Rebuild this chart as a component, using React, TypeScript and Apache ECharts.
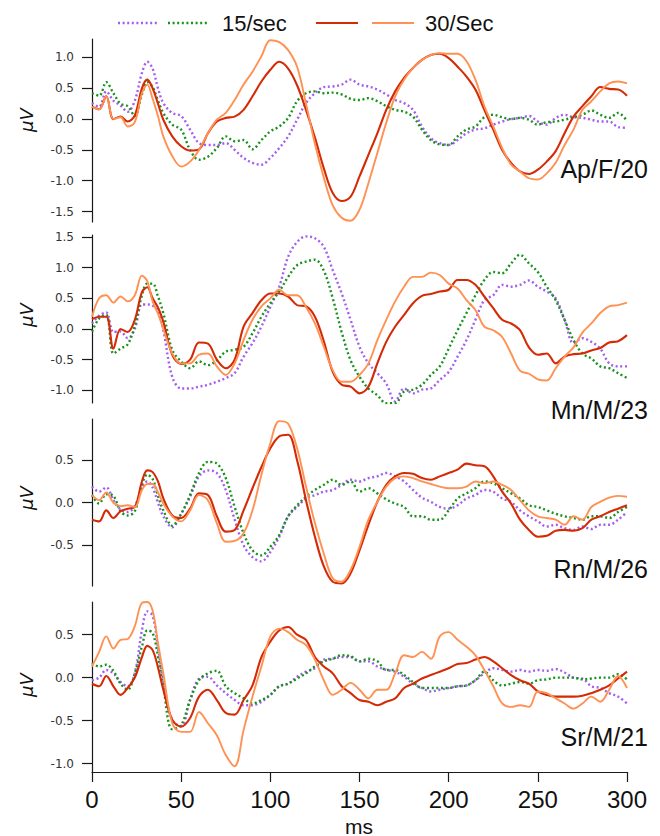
import React, { useEffect, useRef } from "react";
import * as echarts from "echarts";

// time points (ms)
const T = [0, 4, 8, 12, 16, 20, 24, 28, 31, 34, 37, 40,
  45, 50, 55, 60, 65, 70, 75, 80, 85, 90,
  95, 100, 105, 110, 115, 120, 125, 130, 135, 140,
  145, 150, 155, 160, 165, 170, 175, 180, 185, 190,
  195, 200, 205, 210, 215, 220, 225, 230, 235, 240,
  245, 250, 255, 260, 265, 270, 275, 280, 285, 290,
  295, 300];

const xTicks = [0, 50, 100, 150, 200, 250, 300];
const legendLabels = ["15/sec", "30/Sec"];
const seriesNames = ["15/sec A", "15/sec B", "30/Sec A", "30/Sec B"];
const subjects = ["Ap/F/20", "Mn/M/23", "Rn/M/26", "Sr/M/21"];

// Panel 1: Ap/F/20
const apPurple = [0.26, 0.2, 0.45, 0.3, 0.22, 0.12, 0.3, 0.75, 0.93, 0.82, 0.5, 0.26,
  0.1, 0.05, -0.17, -0.39, -0.42, -0.42, -0.39, -0.5, -0.63, -0.71,
  -0.74, -0.63, -0.47, -0.28, -0.01, 0.26, 0.42, 0.52, 0.53, 0.56,
  0.64, 0.56, 0.53, 0.48, 0.4, 0.31, 0.26, 0.15, -0.12, -0.31,
  -0.39, -0.42, -0.34, -0.23, -0.17, -0.15, -0.09, -0.04, 0.0, 0.02,
  0.05, -0.04, -0.09, 0.02, 0.07, 0.03, 0.02, -0.01, -0.04, -0.04,
  -0.13, -0.14];
const apGreen = [0.42, 0.38, 0.6, 0.42, 0.25, 0.21, 0.05, 0.4, 0.6, 0.52, 0.3, 0.1,
  -0.09, -0.17, -0.5, -0.66, -0.61, -0.47, -0.28, -0.36, -0.34, -0.49,
  -0.34, -0.2, -0.12, 0.02, 0.29, 0.42, 0.45, 0.42, 0.43, 0.4,
  0.33, 0.31, 0.34, 0.29, 0.21, 0.15, 0.12, 0.04, -0.17, -0.34,
  -0.41, -0.42, -0.28, -0.17, -0.12, 0.03, 0.07, 0.03, 0.0, 0.02,
  -0.01, -0.09, -0.05, -0.04, -0.01, 0.03, 0.07, 0.14, 0.07, 0.02,
  0.1, -0.03];
const apRed = [0.2, 0.16, 0.37, 0.0, 0.04, -0.04, 0.06, 0.5, 0.64, 0.5, 0.25, -0.01,
  -0.28, -0.44, -0.51, -0.49, -0.23, -0.04, 0.02, 0.04, 0.15, 0.37,
  0.61, 0.8, 0.93, 0.82, 0.55, 0.15, -0.3, -0.8, -1.2, -1.33,
  -1.26, -0.93, -0.58, -0.23, 0.15, 0.45, 0.67, 0.83, 0.96, 1.04,
  1.06, 0.99, 0.85, 0.69, 0.48, 0.15, -0.17, -0.5, -0.71, -0.85,
  -0.89, -0.82, -0.69, -0.52, -0.23, 0.04, 0.21, 0.37, 0.52, 0.49,
  0.48, 0.38];
const apOrange = [0.2, 0.16, 0.37, 0.0, 0.03, -0.12, -0.05, 0.42, 0.56, 0.33, 0.05, -0.28,
  -0.6, -0.77, -0.69, -0.5, -0.23, -0.01, 0.1, 0.31, 0.56, 0.77,
  1.02, 1.28, 1.25, 1.12, 0.85, 0.25, -0.4, -0.95, -1.4, -1.6,
  -1.65, -1.47, -1.04, -0.55, -0.06, 0.37, 0.64, 0.83, 0.96, 1.04,
  1.07, 1.06, 1.06, 0.94, 0.64, 0.21, -0.12, -0.47, -0.74, -0.85,
  -0.96, -0.98, -0.88, -0.71, -0.42, -0.17, 0.15, 0.29, 0.45, 0.58,
  0.61, 0.58];

// Panel 2: Mn/M/23
const mnPurple = [0.09, 0.22, 0.27, -0.05, -0.04, -0.15, 0.0, 0.4, 0.4, 0.38, 0.3, -0.02,
  -0.78, -0.97, -0.97, -0.94, -0.91, -0.86, -0.8, -0.72, -0.45, -0.23,
  0.04, 0.36, 0.69, 1.18, 1.42, 1.51, 1.48, 1.34, 0.96, 0.58,
  0.15, -0.29, -0.56, -0.72, -0.89, -1.18, -0.97, -1.05, -0.99, -0.97,
  -0.83, -0.7, -0.45, -0.18, 0.15, 0.47, 0.55, 0.72, 0.69, 0.72,
  0.79, 0.69, 0.61, 0.5, 0.15, -0.23, -0.15, -0.21, -0.32, -0.56,
  -0.61, -0.61];
const mnGreen = [-0.04, 0.17, 0.23, -0.4, -0.32, -0.25, 0.05, 0.55, 0.74, 0.74, 0.53, 0.26,
  -0.34, -0.53, -0.64, -0.53, -0.59, -0.51, -0.37, -0.34, -0.29, -0.07,
  0.2, 0.42, 0.61, 0.85, 1.04, 1.1, 1.13, 0.95, 0.5, -0.05,
  -0.51, -0.78, -0.97, -1.08, -1.21, -1.21, -1.02, -0.99, -0.91, -0.75,
  -0.61, -0.32, -0.02, 0.26, 0.55, 0.8, 0.93, 0.91, 1.07, 1.21,
  1.07, 0.93, 0.69, 0.47, 0.15, -0.18, -0.4, -0.48, -0.61, -0.64,
  -0.72, -0.8];
const mnRed = [0.16, 0.2, 0.2, -0.32, 0.0, -0.05, 0.15, 0.6, 0.68, 0.5, 0.35, 0.12,
  -0.42, -0.57, -0.5, -0.22, -0.24, -0.5, -0.64, -0.5, 0.04, 0.26,
  0.47, 0.58, 0.58, 0.53, 0.39, 0.37, 0.2, -0.2, -0.7, -0.91,
  -0.94, -1.05, -0.94, -0.56, -0.21, 0.04, 0.23, 0.42, 0.54, 0.57,
  0.61, 0.64, 0.8, 0.8, 0.72, 0.53, 0.34, 0.15, 0.09, -0.02,
  -0.3, -0.42, -0.4, -0.56, -0.45, -0.41, -0.4, -0.35, -0.31, -0.22,
  -0.2, -0.1];
const mnOrange = [0.2, 0.5, 0.55, 0.43, 0.53, 0.45, 0.55, 0.87, 0.78, 0.45, 0.25, 0.0,
  -0.4, -0.56, -0.56, -0.42, -0.4, -0.61, -0.75, -0.56, -0.18, 0.15,
  0.37, 0.5, 0.64, 0.55, 0.55, 0.36, 0.09, -0.29, -0.67, -0.86,
  -0.86, -0.75, -0.56, -0.18, 0.15, 0.45, 0.69, 0.85, 0.85, 0.92,
  0.88, 0.74, 0.66, 0.47, 0.31, 0.04, -0.02, -0.13, -0.4, -0.68,
  -0.73, -0.82, -0.84, -0.64, -0.45, -0.3, -0.06, 0.09, 0.26, 0.37,
  0.39, 0.43];

// Panel 3: Rn/M/26
const rnPurple = [0.19, 0.13, 0.18, 0.03, -0.08, -0.11, -0.04, 0.17, 0.25, 0.18, 0.0, -0.16,
  -0.29, -0.13, 0.07, 0.31, 0.38, 0.35, 0.15, -0.2, -0.5, -0.64,
  -0.69, -0.58, -0.4, -0.16, -0.05, 0.05, 0.09, 0.13, 0.15, 0.21,
  0.27, 0.25, 0.29, 0.31, 0.35, 0.31, 0.25, 0.15, 0.06, 0.01,
  -0.05, -0.07, -0.03, 0.05, 0.09, 0.15, 0.13, 0.05, 0.01, -0.09,
  -0.16, -0.22, -0.28, -0.26, -0.3, -0.32, -0.28, -0.31, -0.26, -0.26,
  -0.2, -0.11];
const rnGreen = [0.09, -0.01, 0.1, 0.08, -0.1, -0.15, -0.1, 0.21, 0.33, 0.28, 0.08, -0.09,
  -0.27, -0.13, 0.09, 0.35, 0.48, 0.46, 0.29, -0.05, -0.36, -0.56,
  -0.62, -0.52, -0.38, -0.16, -0.03, 0.07, 0.15, 0.21, 0.27, 0.21,
  0.25, 0.13, 0.17, 0.11, 0.04, -0.01, -0.05, -0.16, -0.16, -0.2,
  -0.2, -0.09, 0.05, 0.11, 0.17, 0.25, 0.23, 0.17, 0.11, 0.05,
  -0.03, -0.05, -0.09, -0.13, -0.16, -0.18, -0.2, -0.16, -0.16, -0.18,
  -0.11, -0.05];
const rnRed = [-0.2, -0.22, -0.09, -0.18, -0.1, -0.07, -0.05, 0.25, 0.38, 0.36, 0.25, 0.05,
  -0.15, -0.18, -0.07, 0.11, 0.09, -0.16, -0.34, -0.32, -0.09, 0.17,
  0.42, 0.64, 0.78, 0.8, 0.5, 0.03, -0.4, -0.75, -0.93, -0.95,
  -0.83, -0.56, -0.26, 0.01, 0.21, 0.31, 0.35, 0.34, 0.29, 0.27,
  0.31, 0.35, 0.39, 0.46, 0.44, 0.43, 0.31, 0.13, -0.01, -0.2,
  -0.32, -0.4, -0.39, -0.33, -0.32, -0.33, -0.3, -0.2, -0.16, -0.11,
  -0.07, -0.03];
const rnOrange = [0.09, 0.03, 0.12, 0.0, -0.04, -0.03, -0.05, 0.15, 0.22, 0.22, 0.12, -0.01,
  -0.16, -0.22, -0.09, 0.09, 0.03, -0.24, -0.46, -0.45, -0.36, -0.09,
  0.33, 0.7, 0.96, 0.93, 0.64, 0.19, -0.24, -0.6, -0.89, -0.93,
  -0.79, -0.52, -0.2, 0.01, 0.19, 0.29, 0.31, 0.29, 0.25, 0.22,
  0.19, 0.17, 0.17, 0.19, 0.25, 0.23, 0.25, 0.21, 0.15, 0.03,
  -0.09, -0.16, -0.18, -0.2, -0.26, -0.16, -0.2, -0.05, 0.01, 0.06,
  0.08, 0.07];

// Panel 4: Sr/M/21
const srPurple = [-0.03, 0.0, 0.09, 0.05, -0.05, -0.1, 0.05, 0.55, 0.77, 0.72, 0.35, -0.03,
  -0.5, -0.56, -0.26, -0.01, 0.01, -0.09, -0.18, -0.26, -0.32, -0.32,
  -0.28, -0.2, -0.1, -0.07, 0.01, 0.07, 0.11, 0.21, 0.22, 0.24,
  0.24, 0.19, 0.19, 0.13, 0.09, 0.07, 0.01, -0.07, -0.12, -0.16,
  -0.14, -0.12, -0.1, -0.09, -0.03, 0.05, 0.11, 0.09, 0.07, 0.09,
  0.07, 0.09, 0.08, 0.1, 0.06, 0.0, -0.01, -0.1, -0.12, -0.18,
  -0.22, -0.3];
const srGreen = [0.17, 0.13, 0.15, 0.08, -0.07, -0.14, 0.05, 0.36, 0.55, 0.52, 0.25, -0.1,
  -0.6, -0.55, -0.26, -0.03, 0.05, 0.08, -0.1, -0.18, -0.24, -0.3,
  -0.26, -0.2, -0.1, -0.07, -0.01, 0.05, 0.13, 0.19, 0.22, 0.26,
  0.25, 0.19, 0.22, 0.19, 0.09, 0.09, 0.03, -0.05, -0.12, -0.12,
  -0.12, -0.12, -0.1, -0.09, -0.03, 0.07, -0.03, -0.09, -0.07, -0.05,
  -0.07, -0.03, -0.02, 0.0, 0.0, 0.0, -0.02, -0.01, 0.0, 0.0,
  0.04, -0.02];
const srRed = [-0.07, -0.1, 0.02, -0.1, -0.2, -0.12, 0.0, 0.24, 0.37, 0.32, 0.12, -0.14,
  -0.49, -0.57, -0.47, -0.22, -0.14, -0.26, -0.41, -0.43, -0.26, -0.09,
  0.24, 0.42, 0.55, 0.59, 0.5, 0.44, 0.24, 0.13, 0.05, -0.1,
  -0.18, -0.26, -0.28, -0.32, -0.28, -0.24, -0.12, -0.07, -0.01, 0.03,
  0.07, 0.11, 0.16, 0.17, 0.21, 0.24, 0.19, 0.11, 0.03, -0.03,
  -0.07, -0.16, -0.2, -0.22, -0.22, -0.22, -0.21, -0.18, -0.14, -0.09,
  -0.01, 0.07];
const srOrange = [0.13, 0.3, 0.48, 0.34, 0.44, 0.45, 0.6, 0.87, 0.88, 0.78, 0.4, 0.05,
  -0.53, -0.63, -0.63, -0.4, -0.53, -0.67, -0.9, -1.03, -0.61, -0.22,
  0.13, 0.48, 0.57, 0.53, 0.44, 0.38, 0.21, -0.03, -0.2, -0.14,
  -0.06, -0.14, -0.24, -0.14, -0.14, 0.05, 0.26, 0.24, 0.3, 0.22,
  0.48, 0.53, 0.44, 0.36, 0.26, 0.09, -0.1, -0.3, -0.34, -0.32,
  -0.34, -0.16, -0.18, -0.24, -0.3, -0.36, -0.3, -0.22, -0.28, -0.14,
  0.02, -0.12];

const panelData = [
  [apPurple, apGreen, apRed, apOrange],
  [mnPurple, mnGreen, mnRed, mnOrange],
  [rnPurple, rnGreen, rnRed, rnOrange],
  [srPurple, srGreen, srRed, srOrange],
];
const yTicks = [
  [-1.5, -1.0, -0.5, 0, 0.5, 1.0],
  [-1.0, -0.5, 0, 0.5, 1.0, 1.5],
  [-0.5, 0, 0.5],
  [-1.0, -0.5, 0, 0.5],
];
const yRanges = [
  [-1.67, 1.3],
  [-1.207, 1.533],
  [-0.98, 0.985],
  [-1.097, 0.88],
];

const GRID_LEFT = 92;
const GRID_RIGHT = 33;
const gridBoxes = [
  { top: 39, height: 183 },
  { top: 235, height: 168 },
  { top: 419, height: 167 },
  { top: 602, height: 170 },
];
const labelY = [169, 410, 569, 737];

const COLORS = ["#a35ef0", "#17921b", "#d42a06", "#ff9152"];
const DOT = [2, 2.6];

export default function App() {
  const ref = useRef<HTMLDivElement>(null);
  useEffect(() => {
    if (!ref.current) return;
    const chart = echarts.init(ref.current, undefined, { renderer: "svg" });

    const grids = gridBoxes.map((g) => ({
      left: GRID_LEFT,
      right: GRID_RIGHT,
      top: g.top,
      height: g.height,
      containLabel: false,
    }));

    const xAxes = gridBoxes.map((_, i) => ({
      type: "value",
      gridIndex: i,
      min: 0,
      max: 300,
      interval: 50,
      show: i === 3,
      axisLine: { show: true, onZero: false, lineStyle: { color: "#1a1a1a", width: 1.2 } },
      axisTick: { show: true, length: 10, inside: false, lineStyle: { color: "#1a1a1a", width: 1.2 }, customValues: xTicks },
      axisLabel: {
        show: true,
        margin: 15,
        fontFamily: "Liberation Sans",
        fontSize: 24,
        color: "#111",
        customValues: xTicks,
      },
      splitLine: { show: false },
    }));

    const yAxes = gridBoxes.map((_, i) => ({
      type: "value",
      gridIndex: i,
      min: yRanges[i][0],
      max: yRanges[i][1],
      axisLine: { show: true, onZero: false, lineStyle: { color: "#1a1a1a", width: 1.2 } },
      axisTick: { show: true, length: 10, inside: false, lineStyle: { color: "#1a1a1a", width: 1.2 }, customValues: yTicks[i] },
      axisLabel: {
        show: true,
        margin: 18,
        fontFamily: "DejaVu Sans",
        fontSize: 12,
        color: "#333",
        customValues: yTicks[i],
        formatter: (v: number) => v.toFixed(1),
      },
      splitLine: { show: false },
    }));

    const series: any[] = [];
    panelData.forEach((arrs, p) => {
      arrs.forEach((arr, s) => {
        const dotted = s < 2;
        series.push({
          name: seriesNames[s] + " " + subjects[p],
          type: "line",
          xAxisIndex: p,
          yAxisIndex: p,
          data: T.slice(0, arr.length).map((t, k) => [t, arr[k]]),
          showSymbol: false,
          symbol: "none",
          smooth: 0.35,
          lineStyle: {
            color: COLORS[s],
            width: dotted ? 2.4 : s === 2 ? 2.1 : 1.9,
            type: dotted ? DOT : "solid",
            cap: "butt",
          },
          z: 2 + s,
        });
      });
    });

    const graphic: any[] = [];
    // legend
    const legendItems = [
      { x1: 118, x2: 158, c: COLORS[0], dotted: true },
      { x1: 168, x2: 208, c: COLORS[1], dotted: true },
      { x1: 316, x2: 358, c: COLORS[2], dotted: false },
      { x1: 372, x2: 414, c: COLORS[3], dotted: false },
    ];
    legendItems.forEach((it) => {
      graphic.push({
        type: "line",
        shape: { x1: it.x1, y1: 23, x2: it.x2, y2: 23 },
        style: {
          stroke: it.c,
          lineWidth: it.dotted ? 2.4 : 2,
          lineDash: it.dotted ? DOT : null,
        },
      });
    });
    graphic.push({
      type: "text",
      x: 222,
      y: 23,
      style: { text: legendLabels[0], font: "22px 'Liberation Sans'", fill: "#111", textVerticalAlign: "middle", textAlign: "left" },
    });
    graphic.push({
      type: "text",
      x: 425,
      y: 23,
      style: { text: legendLabels[1], font: "22px 'Liberation Sans'", fill: "#111", textVerticalAlign: "middle", textAlign: "left" },
    });
    // subject labels
    subjects.forEach((s, i) => {
      graphic.push({
        type: "text",
        x: 648,
        y: labelY[i],
        style: { text: s, font: "25px 'Liberation Sans'", fill: "#111", textAlign: "right", textVerticalAlign: "middle" },
        z: 10,
      });
    });
    // y axis names
    const muY = [120, 315, 498, 685];
    muY.forEach((y) => {
      graphic.push({
        type: "text",
        x: 26,
        y,
        rotation: Math.PI / 2,
        style: { text: "μV", font: "italic 18px 'DejaVu Sans'", fill: "#111", textAlign: "center", textVerticalAlign: "middle" },
      });
    });
    // x axis name
    graphic.push({
      type: "text",
      x: 359,
      y: 826,
      style: { text: "ms", font: "21px 'Liberation Sans'", fill: "#111", textAlign: "center", textVerticalAlign: "middle" },
    });

    chart.setOption({
      animation: false,
      backgroundColor: "#ffffff",
      grid: grids,
      xAxis: xAxes,
      yAxis: yAxes,
      series,
      graphic,
    });
    return () => chart.dispose();
  }, []);

  return (
    <div
      ref={ref}
      style={{ width: 660, height: 836, position: "fixed", left: 0, top: 0 }}
    />
  );
}
